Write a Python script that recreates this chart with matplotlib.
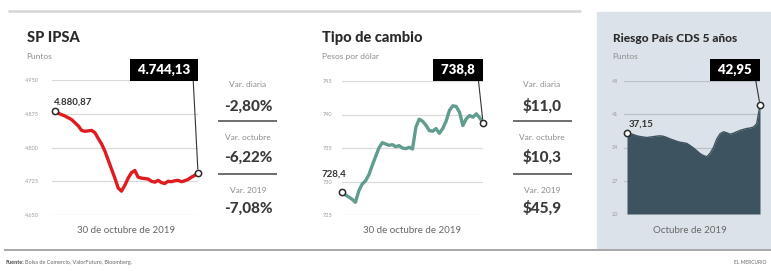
import matplotlib
matplotlib.use("Agg")
import matplotlib.pyplot as plt
from matplotlib.patches import Rectangle
from matplotlib.lines import Line2D

plt.rcParams['font.family'] = ['Lato', 'DejaVu Sans']

# SP IPSA, 30 de octubre de 2019 (intradia)
ipsa = [4880.87, 4876, 4873, 4870, 4866, 4862, 4855, 4848, 4838, 4836,
        4837, 4838, 4833, 4820, 4808, 4792, 4772, 4752, 4732, 4710,
        4703, 4716, 4732, 4744, 4749, 4734, 4732, 4731, 4730, 4725,
        4723, 4727, 4722, 4720, 4725, 4724, 4726, 4727, 4724, 4726,
        4729, 4734, 4738, 4744.13]
ipsa_ticks = [4650, 4725, 4800, 4875, 4950]
ipsa_ticklabels = ['4.650', '4.725', '4.800', '4.875', '4.950']

# Tipo de cambio, pesos por dolar
dolar = [728.4, 728.0, 727.7, 727.35, 726.9, 728.6, 729.6, 730.1, 731.0, 732.4,
         733.7, 735.0, 735.8, 735.6, 735.4, 735.5, 735.2, 735.35, 735.0, 734.9,
         735.1, 734.85, 738.1, 739.3, 739.0, 738.4, 737.6, 737.5, 737.9, 737.2,
         737.9, 739.0, 740.6, 741.3, 741.2, 740.35, 738.35, 739.35, 739.85, 739.6,
         740.1, 739.5, 738.8]
dolar_ticks = [725, 730, 735, 740, 745]
dolar_ticklabels = ['725', '730', '735', '740', '745']

# Riesgo pais CDS 5 anos, octubre de 2019
cds = [37.15, 36.9, 36.7, 36.45, 36.3, 36.2, 36.1, 36.2, 36.3, 36.4,
       36.45, 36.35, 36.1, 35.8, 35.55, 35.3, 35.1, 35.0, 34.85, 34.4,
       33.9, 33.3, 32.7, 32.3, 32.05, 32.8, 34.0, 35.8, 36.9, 37.3,
       37.1, 36.8, 37.0, 37.3, 37.6, 37.8, 38.0, 38.1, 38.3, 39.0,
       42.95]
cds_ticks = [20, 27, 34, 41, 48]
cds_ticklabels = ['20', '27', '34', '41', '48']

ipsa_stats = [('Var. diaria', '-2,80%'), ('Var. octubre', '-6,22%'), ('Var. 2019', '-7,08%')]
dolar_stats = [('Var. diaria', '$11,0'), ('Var. octubre', '$10,3'), ('Var. 2019', '$45,9')]

W, H = 771, 271
fig = plt.figure(figsize=(W / 100, H / 100), dpi=100)
PT = 72 / 100  # points per pixel


def fx(x):
    return x / W


def fy(y):
    return 1 - y / H


def fig_line(x0, x1, y, color, lw):
    fig.add_artist(Line2D([fx(x0), fx(x1)], [fy(y), fy(y)], transform=fig.transFigure,
                          color=color, lw=lw, solid_capstyle='butt'))


def chart(values, ticks, ticklabels, grid_x0, data_x0, data_x1, y0, y1, tick_x,
          color, grid_color, start_label, start_off, start_ha, end_label, area=False):
    n = len(values)
    step = (data_x1 - data_x0) / (n - 1)
    ax = fig.add_axes([fx(grid_x0), fy(y1), (data_x1 - grid_x0) / W, (y1 - y0) / H])
    ax.patch.set_alpha(0)
    ax.set_xlim(-(data_x0 - grid_x0) / step, n - 1)
    ax.set_ylim(ticks[0], ticks[-1])
    for s in ax.spines.values():
        s.set_visible(False)
    ax.set_xticks([])
    ax.set_yticks(ticks)
    ax.set_yticklabels(ticklabels, fontsize=4, color='#9a9a9a')
    for t in ax.get_yticklabels():
        t.set_ha('left')
    ax.tick_params(axis='y', length=0, pad=(grid_x0 - tick_x) * PT)
    ax.grid(axis='y', color=grid_color, lw=0.9)
    ax.set_axisbelow(True)

    x = list(range(n))
    if area:
        ax.fill_between(x, values, ticks[0], color=color, lw=0, zorder=2)
        ax.plot(x, values, color=color, lw=1.0, zorder=2)
    else:
        ax.plot(x, values, color=color, lw=2.4, solid_joinstyle='round', zorder=2, clip_on=False)
    ax.plot([0, n - 1], [values[0], values[-1]], 'o', ms=4.5, mfc='white', mec='#2b2b2b',
            mew=1.1, zorder=4, clip_on=False)

    ax.annotate(start_label, xy=(0, values[0]), xytext=start_off, textcoords='offset points',
                ha=start_ha, va='baseline', fontsize=7, fontweight='bold', color='#333333',
                annotation_clip=False, zorder=5)

    pad = 0.38
    fs = 9.5
    shift = pad * fs / PT / step
    ax.annotate(end_label, xy=(n - 1, values[-1]), xytext=(n - 1 - shift, fy(70)),
                textcoords=('data', 'figure fraction'), ha='right', va='center',
                fontsize=fs, fontweight='heavy', color='white',
                bbox=dict(boxstyle='square,pad=%s' % pad, fc='black', ec='none'),
                arrowprops=dict(arrowstyle='-', color='#333333', lw=0.8, relpos=(1, 0),
                                shrinkA=0, shrinkB=2.6),
                annotation_clip=False, zorder=5)
    return ax


def stats(cx, sx0, sx1, items):
    label_y = [87, 140, 193]
    value_y = [111, 162, 213]
    for (lab, val), ly, vy in zip(items, label_y, value_y):
        fig.text(fx(cx), fy(ly), lab, ha='center', va='baseline', fontsize=6, color='#8c8c8c')
        fig.text(fx(cx), fy(vy), val, ha='center', va='baseline', fontsize=11,
                 fontweight='black', color='#3a3a3a')
    for sy in [120.5, 173.5]:
        fig_line(sx0, sx1, sy, '#555555', 1.2)


# background of the third panel and frame lines
bg = Rectangle((fx(597), fy(248)), (W - 597) / W, (248 - 12) / H,
               transform=fig.transFigure, color='#dce2e9', zorder=-5)
fig.add_artist(bg)
fig_line(8, 581, 11, '#d6d6d6', 1.8)
fig_line(4, W, 250, '#a8a8a8', 1.4)

# SP IPSA
fig.text(fx(27), fy(42), 'SP IPSA', fontsize=10.5, fontweight='black', color='#2a2a2a')
fig.text(fx(26), fy(59), 'Puntos', fontsize=6, color='#8c8c8c')
chart(ipsa, ipsa_ticks, ipsa_ticklabels, 52, 55, 198, 80, 215, 25,
      '#e01b1f', '#dadada', '4.880,87', (-1, 5), 'left', ' 4.744,13 ')
stats(248, 218, 277, ipsa_stats)
fig.text(fx(126), fy(233), '30 de octubre de 2019', ha='center', fontsize=7, color='#666666')

# Tipo de cambio
fig.text(fx(322), fy(42), 'Tipo de cambio', fontsize=10.5, fontweight='black', color='#2a2a2a')
fig.text(fx(322), fy(59), 'Pesos por dólar', fontsize=6, color='#8c8c8c')
chart(dolar, dolar_ticks, dolar_ticklabels, 342, 342, 483, 81, 215, 323,
      '#609c8f', '#dadada', '728,4', (-14.5, 11), 'left', ' 738,8 ')
stats(542, 513, 572, dolar_stats)
fig.text(fx(412), fy(233), '30 de octubre de 2019', ha='center', fontsize=7, color='#666666')

# Riesgo pais
fig.text(fx(613), fy(42), 'Riesgo País CDS 5 años', fontsize=8.6, fontweight='black', color='#2a2a2a')
fig.text(fx(612), fy(59), 'Puntos', fontsize=6, color='#8c8c8c')
chart(cds, cds_ticks, cds_ticklabels, 624, 627, 760, 81, 214, 612,
      '#3d535f', '#b9c1c9', '37,15', (1.5, 4), 'left', ' 42,95 ', area=True)
fig.text(fx(690), fy(233), 'Octubre de 2019', ha='center', fontsize=7, color='#666666')

# footer
fig.text(fx(5), fy(264), 'Fuente:', fontsize=4, fontweight='bold', color='#444444')
fig.text(fx(25), fy(264), 'Bolsa de Comercio, ValorFuturo, Bloomberg.', fontsize=4, color='#666666')
fig.text(fx(766), fy(264), 'EL MERCURIO', ha='right', fontsize=3.5, color='#666666')

fig.savefig('out.png', dpi=100)
